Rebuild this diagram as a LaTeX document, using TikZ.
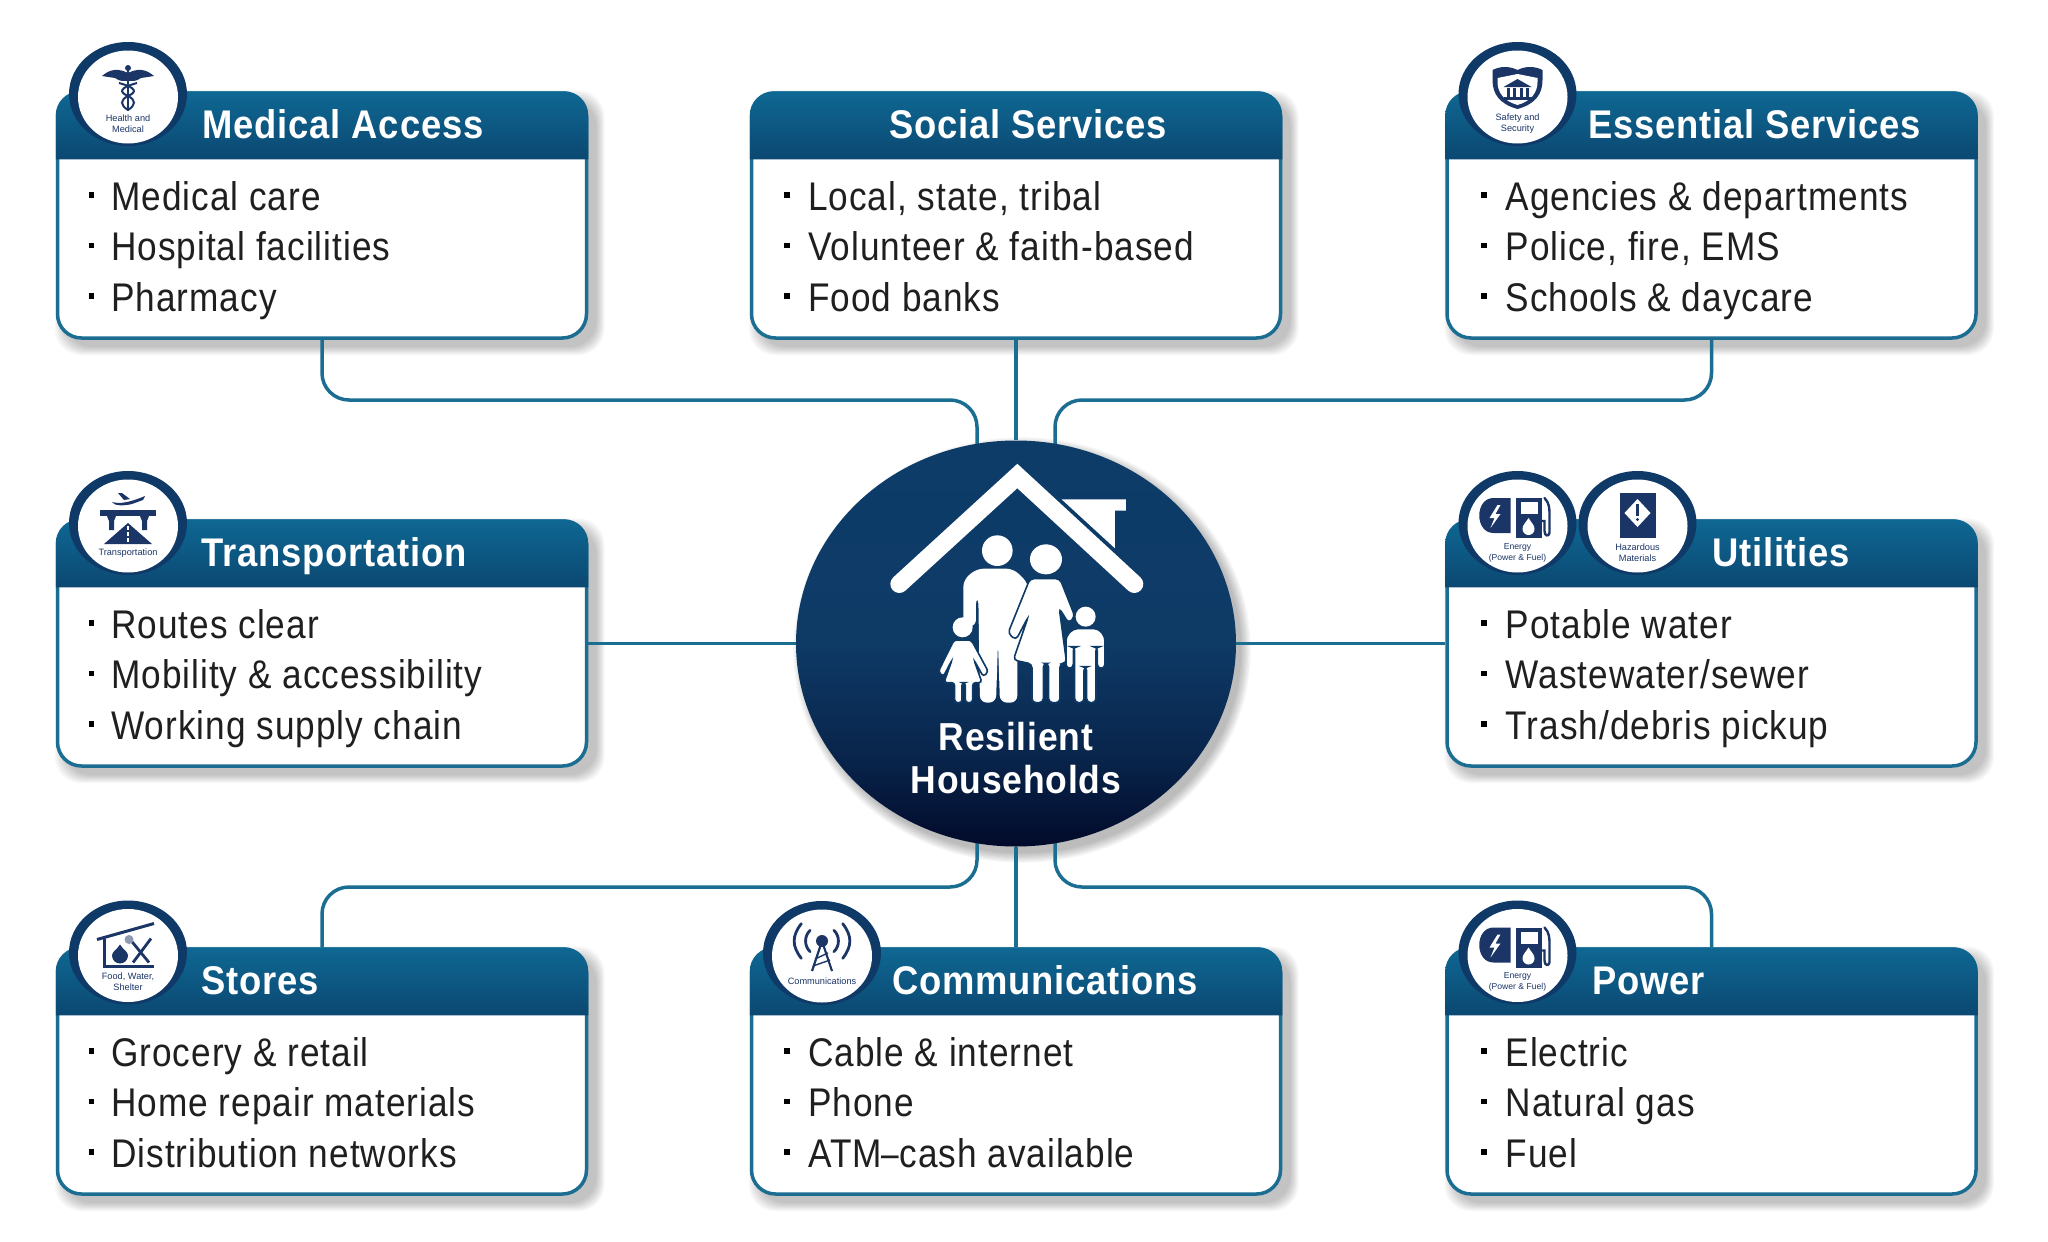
\documentclass[tikz,border=0pt]{standalone}
\usepackage{graphicx}
\usepackage{fontspec}
\setmainfont{Liberation Sans}
\newfontfamily\itemfont[FakeStretch=0.88,LetterSpace=2.5]{Liberation Sans}
\newfontfamily\titlefont[FakeStretch=0.91,LetterSpace=2,BoldFont={Liberation Sans Bold}]{Liberation Sans}
\usetikzlibrary{calc,shapes.geometric,backgrounds}
\definecolor{headT}{HTML}{0E6893}
\definecolor{headB}{HTML}{0B4872}
\definecolor{cardline}{HTML}{1B6D92}
\definecolor{ringblue}{HTML}{0F3A68}
\definecolor{iconblue}{HTML}{1B3566}
\definecolor{hubA}{HTML}{020A2A}
\definecolor{hubB}{HTML}{0E3A66}
\definecolor{hubC}{HTML}{0D3C69}
\pgfdeclareverticalshading{hubgrad}{100bp}{color(0bp)=(hubA); color(25bp)=(hubA); color(36bp)=(hubA!45!hubB); color(50bp)=(hubB); color(75bp)=(hubC); color(100bp)=(hubC)}
\tikzset{
  cardbody/.style={draw=cardline,line width=3.5pt,fill=white,rounded corners=24pt,minimum width=529pt,minimum height=245pt,inner sep=0pt},
  conn/.style={draw=cardline,line width=3.5pt,rounded corners=27pt},
  straightconn/.style={draw=cardline,line width=3.5pt},
  cardtitle/.style={anchor=base west,inner sep=0pt,text=white,font=\titlefont\bfseries\fontsize{40}{48}\selectfont},
  itemtext/.style={anchor=base west,inner sep=0pt,text=black!88,font=\itemfont\fontsize{40}{48}\selectfont},
  hubtext/.style={anchor=base,inner sep=0pt,text=white,font=\titlefont\bfseries\fontsize{39}{47}\selectfont},
  badge/.style={ellipse,fill=ringblue,minimum width=118pt,minimum height=104pt,inner sep=0pt},
  iconlabel/.style={align=center,inner sep=0pt,text=iconblue,font=\fontsize{9.2}{11}\selectfont},
  ic/.style={fill=iconblue},
  il/.style={draw=iconblue,line width=1.6pt},
}
\newcommand{\softshadow}[4]{% x0 y0 x1 y1
  \begin{scope}[on background layer]
    \foreach \i in {1,...,9}
      \fill[black,opacity=.028,rounded corners=26pt] ({#1+9-\i*1.3},{#2+9-\i*1.3}) rectangle ({#3+9+\i*1.0},{#4+9+\i*1.0});
  \end{scope}}
\newcommand{\cardbox}[9]{% name cx cy titlex title item1 item2 item3 coloffset
  \softshadow{#2-264.5}{#3-122}{#2+264.5}{#3+122}
  \node[cardbody] (#1) at (#2,#3+.5) {};
  \shade[top color=headT,bottom color=headB]
    ($(#1.north west)+(0,68)$) [rounded corners=24pt] -- (#1.north west) -- (#1.north east) [sharp corners] -- ($(#1.north east)+(0,68)$) -- cycle;
  \node[cardtitle] (#1title) at (#4,#3-77) {#5};
  \foreach \n/\dy/\t in {a/-5/{#6},b/45.5/{#7},c/96/{#8}}{
    \fill[black] ({#2-264.5+31+#9*.6},{#3+\dy-18}) rectangle ++(5.5,5.5);
    \node[itemtext] (#1\n) at ({#2-264.5+53.5+#9},{#3+\dy}) {\t};
  }
}
\newcommand{\badgenode}[3]{% name x y
  \node[badge] (#1) at (#2,#3) {};
  \fill[white] ($(#1.center)+(0,3)$) ellipse[x radius=50,y radius=46.5];
}
\newcommand{\iconEnergy}[1]{%
  \fill[ic] (-7,-25) -- (-24,-25) .. controls (-43,-25) and (-43,10) .. (-24,10) -- (-7,10) -- cycle;
  \fill[white] (-20,-18) -- (-28,-5) -- (-23,-5) -- (-27,5) -- (-17,-9) -- (-22,-9) -- (-17,-18) -- cycle;
  \fill[ic] (-2,-25) rectangle (24,15);
  \fill[white] (3,-21) rectangle (20,-9);
  \fill[white] (11,-5) .. controls (8,0) and (5,2) .. (5,6) arc[start angle=180,end angle=0,radius=6] .. controls (17,2) and (14,0) .. (11,-5) -- cycle;
  \draw[il,line width=2.4pt,line cap=round] (27,-25) .. controls (32,-20) and (32,-14) .. (32,-8) -- (32,10) .. controls (31,14) and (27,13) .. (27,8) -- (27,-2) -- (25,-2);
  \node[iconlabel,font=\fontsize{8.6}{11}\selectfont] (#1) at (0,29.5) {Energy\\(Power \& Fuel)};
}
\begin{document}
\begin{tikzpicture}[x=1pt,y=-1pt]
\useasboundingbox (0,0) rectangle (2048,1242);
\begin{scope}[on background layer]
  \fill[white] (0,0) rectangle (2048,1242);
\end{scope}

% cards
\cardbox{medical}{322}{215}{202.5}{Medical Access}{Medical care}{Hospital facilities}{Pharmacy}{0}
\cardbox{social}{1016}{215}{889}{Social Services}{Local, state, tribal}{Volunteer \& faith-based}{Food banks}{3}
\cardbox{essential}{1711.5}{215}{1588}{Essential Services}{Agencies \& departments}{Police, fire, EMS}{Schools \& daycare}{5}
\cardbox{transport}{322}{643}{201}{Transportation}{Routes clear}{Mobility \& accessibility}{Working supply chain}{0}
\cardbox{utilities}{1711.5}{643}{1712}{Utilities}{Potable water}{Wastewater/sewer}{Trash/debris pickup}{5}
\cardbox{stores}{322}{1071}{201}{Stores}{Grocery \& retail}{Home repair materials}{Distribution networks}{0}
\cardbox{comms}{1016}{1071}{892}{Communications}{Cable \& internet}{Phone}{ATM\scalebox{.5}[1]{—}cash available}{3}
\cardbox{power}{1711.5}{1071}{1592}{Power}{Electric}{Natural gas}{Fuel}{5}

% hub
\begin{scope}[on background layer]
  \foreach \i in {1,...,9}
    \fill[black,opacity=.03] (1022,650) ellipse[x radius={218+\i*1.2},y radius={202+\i*1.2}];
\end{scope}
\node[ellipse,shading=hubgrad,minimum width=440pt,minimum height=406pt,inner sep=0pt] (hub) at (1016,643.5) {};
\coordinate (hubNW) at ($(hub.center)+(-39,-190)$);
\coordinate (hubNE) at ($(hub.center)+(39,-190)$);
\coordinate (hubSW) at ($(hub.center)+(-39,190)$);
\coordinate (hubSE) at ($(hub.center)+(39,190)$);
\coordinate (busT) at (1016,400);
\coordinate (busB) at (1016,887);

% connectors
\begin{scope}[on background layer]
  \draw[conn] (medical.south) |- (hubNW |- busT) -- (hubNW);
  \draw[conn] (essential.south) |- (hubNE |- busT) -- (hubNE);
  \draw[conn] (stores.north) |- (hubSW |- busB) -- (hubSW);
  \draw[conn] (power.north) |- (hubSE |- busB) -- (hubSE);
  \draw[straightconn] (social.south) -- (hub.north);
  \draw[straightconn] (comms.north) -- (hub.south);
  \draw[straightconn] (transport.east) -- (hub.west);
  \draw[straightconn] (utilities.west) -- (hub.east);
\end{scope}

% hub artwork
\begin{scope}[shift={(780,420)},x=.3333pt,y=-.3333pt]
  \draw[white,line width=18pt,line cap=round,line join=miter] (358,492) -- (712,168) -- (1063,492);
  \fill[white] (845,238) -- (1038,238) -- (1038,272) -- (1005,272) -- (1005,385) -- cycle;
  % man
  \fill[white] (652,392) circle[radius=46];
  \fill[white,rounded corners=7pt] (550,620) -- (550,480) -- (590,446) -- (700,446) -- (745,490) -- (745,560) -- (712,700) -- (712,848) -- (660,848) -- (654,670) -- (648,848) -- (600,848) -- (595,530) -- (588,530) -- (588,620) -- cycle;
  % woman
  \fill[white] (798,418) ellipse[x radius=48,y radius=45];
  \draw[hubB,fill=white,line width=1.6pt,rounded corners=4pt] (750,476) -- (840,476) -- (885,590) -- (866,610) -- (838,565) -- (860,730) -- (840,730) -- (840,848) -- (806,848) -- (806,730) -- (790,730) -- (790,848) -- (756,848) -- (756,732) -- (700,720) -- (745,590) -- (708,660) -- (684,640) -- cycle;
  % girl
  \fill[white] (548,622) circle[radius=30];
  \draw[hubB,fill=white,line width=1.6pt,rounded corners=3pt] (522,660) -- (574,660) -- (625,755) -- (610,770) -- (582,720) -- (606,788) -- (578,788) -- (578,848) -- (556,848) -- (556,788) -- (546,788) -- (546,848) -- (524,848) -- (524,788) -- (492,788) -- (516,720) -- (490,770) -- (475,755) -- cycle;
  % boy
  \fill[white] (917,590) circle[radius=30];
  \draw[hubB,fill=white,line width=1.6pt,rounded corners=4pt] (880,626) -- (955,626) -- (975,650) -- (975,745) -- (952,745) -- (952,680) -- (948,680) -- (948,848) -- (920,848) -- (920,740) -- (912,740) -- (912,848) -- (884,848) -- (884,680) -- (880,680) -- (880,745) -- (858,745) -- (858,650) -- cycle;
\end{scope}
\node[hubtext] (hubline1) at (1016,750) {Resilient};
\node[hubtext] (hubline2) at (1016,793) {Households};

% badges
\badgenode{bMedical}{128}{94}
\begin{scope}[shift={(bMedical.center)}]
  \fill[ic] (0,-21) .. controls (-10,-26) and (-18,-25) .. (-26,-18) -- (-13,-16) .. controls (-8,-13) .. (0,-13) .. controls (8,-13) .. (13,-16) -- (26,-18) .. controls (18,-25) and (10,-26) .. (0,-21) -- cycle;
  \fill[ic] (0,-26) circle[radius=3];
  \draw[il] (0,-26) -- (0,17);
  \draw[il,line width=2pt] (-9,-11) .. controls (9,-6) and (9,-2) .. (0,2) .. controls (-8,6) and (-8,11) .. (0,16);
  \draw[il,line width=2pt] (9,-11) .. controls (-9,-6) and (-9,-2) .. (0,2) .. controls (8,6) and (8,11) .. (0,16);
  \node[iconlabel] (lMedical) at (0,30) {Health and\\Medical};
\end{scope}

\badgenode{bSafety}{1517.5}{94}
\begin{scope}[shift={(bSafety.center)}]
  \fill[ic] (0,15) .. controls (-18,10) and (-25,0) .. (-25,-14) -- (-25,-24) .. controls (-17,-28) and (-8,-28) .. (0,-24) .. controls (8,-28) and (17,-28) .. (25,-24) -- (25,-14) .. controls (25,0) and (18,10) .. (0,15) -- cycle;
  \fill[white] (0,11) .. controls (-14,7) and (-20,-2) .. (-20,-12) -- (-20,-16) -- (0,-20) -- (20,-16) -- (20,-12) .. controls (20,-2) and (14,7) .. (0,11) -- cycle;
  \fill[ic] (0,-15) -- (-14,-7) -- (14,-7) -- cycle;
  \fill[ic] (-14,3) rectangle (14,6);
  \foreach \x in {-11,-4.5,2,8.5} \fill[ic] (\x,-6) rectangle ++(3,9);
  \node[iconlabel] (lSafety) at (0,30) {Safety and\\Security};
\end{scope}

\badgenode{bTransport}{128}{523}
\begin{scope}[shift={(bTransport.center)}]
  \fill[ic] (-16,-21) .. controls (-8,-19) and (0,-20) .. (17,-27) -- (15,-23) -- (4,-19) .. controls (-4,-17) and (-14,-17) .. (-16,-21) -- cycle;
  \fill[ic] (-10,-30) -- (-6,-30) -- (2,-24) -- (-4,-23) -- cycle;
  \fill[ic] (-28,-13) rectangle (28,-7);
  \fill[ic] (-21,-7) -- (-12,-7) -- (-14,-2) -- (-14,7) -- (-19,7) -- (-19,-2) -- cycle;
  \fill[ic] (21,-7) -- (12,-7) -- (14,-2) -- (14,7) -- (19,7) -- (19,-2) -- cycle;
  \fill[ic] (0,0) -- (24,21) -- (-24,21) -- cycle;
  \foreach \y in {3,9,15} \fill[white] (-.6,\y) rectangle ++(1.2,4);
  \node[iconlabel] (lTransport) at (0,30) {Transportation};
\end{scope}

\badgenode{bEnergyA}{1517.5}{523}
\begin{scope}[shift={(bEnergyA.center)}]
  \iconEnergy{lEnergyA}
\end{scope}

\badgenode{bHazard}{1637.5}{523}
\begin{scope}[shift={(bHazard.center)}]
  \fill[ic] (-18,-30) rectangle (18,15);
  \fill[white] (0,-24) -- (13,-10) -- (0,4) -- (-13,-10) -- cycle;
  \fill[ic] (-1.4,-19) rectangle (1.4,-7);
  \fill[ic] (0,-3.5) circle[radius=1.7];
  \node[iconlabel] (lHazard) at (0,29.5) {Hazardous\\Materials};
\end{scope}

\badgenode{bFood}{128}{952.5}
\begin{scope}[shift={(bFood.center)}]
  \draw[il,line width=3pt] (-31,-13) -- (26,-29);
  \draw[il,line width=3pt] (-24,-14) -- (-24,14) -- (26,14);
  \fill[ic] (-8,-8) .. controls (-11,-3) and (-16,-1) .. (-16,3) arc[start angle=180,end angle=0,radius=8] .. controls (0,-1) and (-5,-3) .. (-8,-8) -- cycle;
  \draw[il,line width=2.8pt] (3,-12) -- (21,10);
  \draw[il,line width=2.8pt] (23,-14) -- (5,10);
  \fill[iconblue!50] (1,-13) circle[radius=4.5];
  \node[iconlabel] (lFood) at (0,29) {Food, Water,\\Shelter};
\end{scope}

\badgenode{bComms}{822}{953}
\begin{scope}[shift={(bComms.center)}]
  \fill[ic] (0,-12) circle[radius=6];
  \draw[il,line width=2.2pt,line join=round] (-10,18) -- (0,-12) -- (10,18);
  \draw[il,line width=1.4pt] (-7,6) -- (6,0);
  \draw[il,line width=1.4pt] (-9,13) -- (8,7);
  \foreach \r/\a in {16/42,27/40}{
    \draw[il,line width=2.8pt,line cap=round] ({-\r*cos(\a)},{-12-\r*sin(\a)}) .. controls ({-\r*1.12},-17) and ({-\r*1.12},-7) .. ({-\r*cos(\a)},{-12+\r*sin(\a)});
    \draw[il,line width=2.8pt,line cap=round] ({\r*cos(\a)},{-12-\r*sin(\a)}) .. controls ({\r*1.12},-17) and ({\r*1.12},-7) .. ({\r*cos(\a)},{-12+\r*sin(\a)});
  }
  \node[iconlabel] (lComms) at (0,28) {Communications};
\end{scope}

\badgenode{bEnergyB}{1517.5}{952.5}
\begin{scope}[shift={(bEnergyB.center)}]
  \iconEnergy{lEnergyB}
\end{scope}
\end{tikzpicture}
\end{document}
